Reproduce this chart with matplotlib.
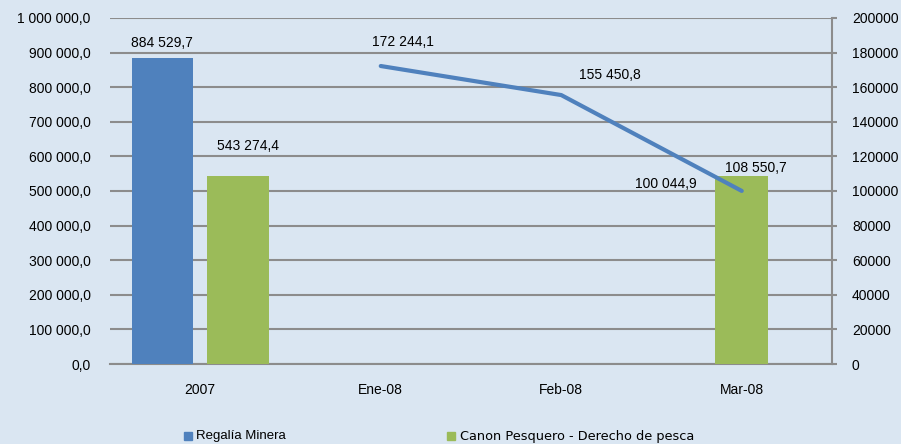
import matplotlib
matplotlib.use("Agg")
import matplotlib.pyplot as plt
from matplotlib.ticker import FuncFormatter, MultipleLocator

plt.rcParams['font.family'] = ['Liberation Sans', 'DejaVu Sans']

categories = ["2007", "Ene-08", "Feb-08", "Mar-08"]
regalia_minera = [884529.7]          # solo 2007
canon_pesquero = [543274.4]          # 2007, eje principal
canon_mar08 = [108550.7]             # Mar-08, eje secundario
linea_meses = ["Ene-08", "Feb-08", "Mar-08"]
linea_valores = [172244.1, 155450.8, 100044.9]

BLUE = '#4f81bd'
GREEN = '#9bbb59'
GRID = '#8c8c8c'
BG = '#dae6f2'


def fmt_es(v, decimals=1):
    s = f"{v:,.{decimals}f}"
    return s.replace(",", " ").replace(".", ",")


fig = plt.figure(figsize=(9.01, 4.44), dpi=100)
fig.patch.set_facecolor(BG)
ax = fig.add_axes([110 / 901, 1 - 364 / 444, 722 / 901, 346 / 444])
ax.set_facecolor('none')
ax2 = ax.twinx()

x = list(range(len(categories)))

# barras 2007
ax.bar(x[0] - 0.21, regalia_minera[0], width=0.34, color=BLUE, zorder=3)
ax.bar(x[0] + 0.21, canon_pesquero[0], width=0.34, color=GREEN, zorder=3)

# barra Mar-08 y linea en el eje secundario
ax2.bar(categories.index("Mar-08"), canon_mar08[0], width=0.295, color=GREEN, zorder=3)
lx = [categories.index(m) for m in linea_meses]
ax2.plot(lx, linea_valores, color=BLUE, lw=3, zorder=4, solid_capstyle='round')

ax.set_xlim(-0.5, 3.5)
ax.set_ylim(0, 1000000)
ax2.set_ylim(0, 200000)
ax.yaxis.set_major_locator(MultipleLocator(100000))
ax2.yaxis.set_major_locator(MultipleLocator(20000))
ax.yaxis.set_major_formatter(FuncFormatter(lambda v, p: fmt_es(v)))
ax2.yaxis.set_major_formatter(FuncFormatter(lambda v, p: f"{int(v)}"))

ax.set_xticks(x)
ax.set_xticklabels(categories)
ax.grid(axis='y', color=GRID, lw=1.5, zorder=0)
ax.set_axisbelow(True)

for a in (ax, ax2):
    for s in ('top', 'left'):
        a.spines[s].set_visible(False)
    a.spines['bottom'].set_color(GRID)
    a.spines['bottom'].set_linewidth(1.5)
    a.spines['right'].set_color(GRID)
    a.spines['right'].set_linewidth(1.5)
ax.spines['right'].set_visible(False)
ax2.spines['bottom'].set_visible(False)

ax.tick_params(axis='y', length=0, pad=14, labelsize=10)
ax.tick_params(axis='x', length=0, pad=14, labelsize=10)
ax2.tick_params(axis='y', length=3.6, width=1.5, color=GRID, pad=10.8, labelsize=10)


# etiquetas de datos (desplazamiento en pixeles respecto al punto)
def lab(a, xv, yv, dx, dy, val):
    a.annotate(fmt_es(val), (xv, yv), xytext=(dx, dy), textcoords='offset pixels',
               ha='center', va='center', fontsize=10, zorder=5)


lab(ax, x[0] - 0.21, regalia_minera[0], 0, 15, regalia_minera[0])
lab(ax, x[0] + 0.21, canon_pesquero[0], 10, 30, canon_pesquero[0])
lab(ax2, 3, canon_mar08[0], 14, 8, canon_mar08[0])
offsets = [(22, 24), (49, 20), (-76, 7)]
for xv, yv, (dx, dy) in zip(lx, linea_valores, offsets):
    lab(ax2, xv, yv, dx, dy, yv)

# leyenda
fig.text(196 / 901, 1 - 436 / 444, "Regalía Minera", fontsize=9.5, va='center', ha='left')
fig.text(460 / 901, 1 - 436 / 444, "Canon Pesquero - Derecho de pesca", fontsize=9.3,
         va='center', ha='left', family=['DejaVu Sans'])
fig.patches.append(plt.Rectangle((184 / 901, 1 - 440 / 444), 8 / 901, 8 / 444,
                                 transform=fig.transFigure, color=BLUE))
fig.patches.append(plt.Rectangle((447 / 901, 1 - 440 / 444), 8 / 901, 8 / 444,
                                 transform=fig.transFigure, color=GREEN))

fig.savefig("out.png", dpi=100, facecolor=BG)
